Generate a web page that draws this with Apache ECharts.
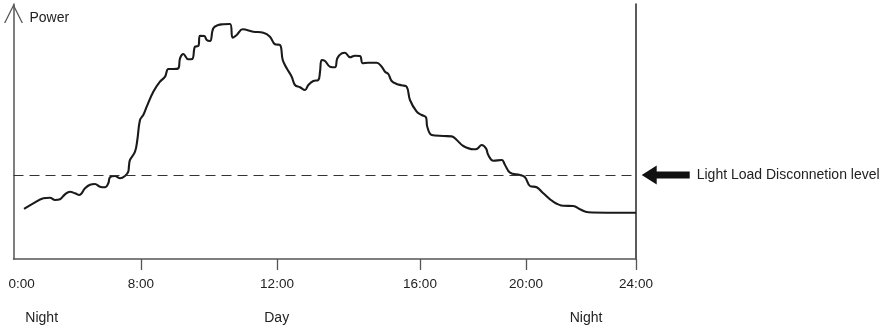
<!DOCTYPE html>
<html>
<head>
<meta charset="utf-8">
<script src="https://cdn.jsdelivr.net/npm/echarts@6/dist/echarts.min.js"></script>
<style>
  html, body { margin: 0; padding: 0; background: #fff; }
  #chart { width: 887px; height: 328px; }
</style>
</head>
<body>
<div id="chart"></div>
<script>
// Daily load profile, schematic: position along the day (0-100) vs. power (0-100).
const curvePos = [
  1.69, 3.18, 4.79, 5.86, 6.67, 7.47, 8.27, 9.08, 9.88, 10.57,
  11.49, 12.29, 13.09, 13.90, 14.70, 15.23, 15.50, 16.31, 17.11, 17.91,
  18.44, 18.55, 18.71, 19.52, 19.89, 20.32, 20.85, 21.40, 22.46, 23.53,
  24.34, 24.87, 25.67, 26.47, 26.75, 27.28, 28.08, 28.72, 29.16, 29.69,
  29.96, 30.65, 31.04, 31.57, 32.10, 32.90, 33.70, 34.78, 35.21, 35.86,
  36.82, 38.52, 40.13, 41.20, 42.01, 42.81, 43.25, 43.89, 44.69, 45.22,
  46.02, 46.83, 47.36, 48.16, 48.96, 49.24, 49.51, 50.04, 50.84, 51.65,
  52.02, 52.72, 53.25, 54.06, 54.86, 55.66, 56.10, 57.00, 58.34, 59.15,
  59.68, 60.21, 60.75, 61.56, 62.36, 63.16, 63.69, 64.77, 65.57, 66.27,
  66.47, 67.18, 69.04, 70.39, 71.20, 72.26, 73.86, 74.51, 75.21, 75.90,
  76.27, 77.08, 78.43, 78.96, 79.76, 81.36, 82.17, 82.97, 84.05, 85.11,
  86.71, 88.32, 89.93, 91.00, 92.34, 95.29, 100
];
const curvePower = [
  19.61, 21.84, 23.80, 24.04, 23.14, 23.41, 25.37, 26.39, 25.76, 25.10,
  27.73, 29.14, 29.41, 28.35, 28.12, 29.69, 32.04, 32.55, 31.65, 32.55,
  34.24, 36.47, 38.82, 42.08, 46.67, 54.51, 56.47, 59.73, 65.61, 69.53,
  71.49, 74.51, 74.51, 74.78, 78.71, 80.39, 78.31, 78.43, 83.25, 83.53,
  87.57, 87.45, 85.88, 85.49, 90.47, 91.76, 92.04, 92.16, 86.78, 87.84,
  90.08, 89.14, 88.75, 87.18, 84.20, 83.92, 78.04, 74.78, 71.49, 68.24,
  67.33, 66.27, 68.24, 69.80, 70.20, 73.45, 78.04, 77.65, 75.41, 75.18,
  78.71, 80.67, 80.90, 79.10, 79.73, 79.61, 76.75, 76.98, 76.98, 75.41,
  73.45, 72.55, 69.80, 68.63, 68.12, 67.57, 62.35, 57.76, 56.47, 55.57,
  51.88, 48.63, 48.24, 48.08, 46.67, 44.31, 43.02, 43.25, 44.71, 43.41,
  40.78, 38.55, 38.82, 36.86, 33.84, 32.94, 32.04, 28.63, 28.12, 25.76,
  22.47, 20.90, 20.78, 19.49, 18.31, 18.16, 18.16
];

// Light load disconnection threshold
const disconnectLevel = 32.94;
const disconnectText = 'Light Load Disconnetion level';

// Hour labels along the time axis and where they sit
const hourLabels = ['0:00', '8:00', '12:00', '16:00', '20:00', '24:00'];
const hourLabelPos = [1.3, 20.48, 42.33, 65.30, 82.33, 100];
const hourTickPos = [20.48, 42.33, 65.30, 82.33, 100];

// Period names under the hours
const periodLabels = ['Night', 'Day', 'Night'];
const periodPos = [4.53, 42.28, 91.97];

const FONT = '"Liberation Sans", Arial, Helvetica, sans-serif';
const chart = echarts.init(document.getElementById('chart'), null, { renderer: 'canvas' });

function lookup(values, labels) {
  return function (v) {
    let best = 0, d = Infinity;
    values.forEach((p, i) => { const e = Math.abs(p - v); if (e < d) { d = e; best = i; } });
    return labels[best];
  };
}

const openArrow = 'path://M0,19 L9.5,0 L19,19 L17.6,19 L9.5,2.8 L1.4,19 Z';
const solidArrowLeft = 'path://M0,9.5 L15,0 L15,6 L48,6 L48,13 L15,13 L15,19 Z';

chart.setOption({
  animation: false,
  backgroundColor: '#ffffff',
  textStyle: { fontFamily: FONT },
  grid: { left: 13.5, right: 251, top: 4, bottom: 69, containLabel: false },
  xAxis: [
    {
      type: 'value', min: 0, max: 100,
      axisLine: { show: true, lineStyle: { color: '#555', width: 1.5 } },
      axisTick: { show: true, customValues: hourTickPos, length: 11, lineStyle: { color: '#555', width: 1.3 } },
      axisLabel: {
        show: true, customValues: hourLabelPos, margin: 18,
        color: '#222', fontSize: 13.5, fontFamily: FONT,
        formatter: lookup(hourLabelPos, hourLabels)
      },
      splitLine: { show: false }
    },
    {
      type: 'value', min: 0, max: 100, position: 'bottom',
      axisLine: { show: false }, axisTick: { show: false }, splitLine: { show: false },
      axisLabel: {
        show: true, customValues: periodPos, margin: 52,
        color: '#222', fontSize: 14, fontFamily: FONT,
        formatter: lookup(periodPos, periodLabels)
      }
    }
  ],
  yAxis: [
    {
      type: 'value', min: 0, max: 100,
      name: 'Power', nameLocation: 'end', nameGap: -14,
      nameTextStyle: { color: '#222', fontSize: 14, fontFamily: FONT, align: 'left', verticalAlign: 'middle', padding: [0, 0, 0, 16] },
      axisLine: {
        show: true, lineStyle: { color: '#555', width: 1.5 },
        symbol: ['none', openArrow], symbolSize: [19, 19], symbolOffset: [0, -9.5]
      },
      axisTick: { show: false }, axisLabel: { show: false }, splitLine: { show: false }
    },
    {
      type: 'value', min: 0, max: 100, position: 'right',
      axisLine: { show: true, onZero: false, lineStyle: { color: '#333', width: 1.6 } },
      axisTick: { show: false }, axisLabel: { show: false }, splitLine: { show: false }
    }
  ],
  series: [
    {
      type: 'line',
      data: curvePos.map((x, i) => [x, curvePower[i]]),
      showSymbol: false,
      smooth: 0.4,
      lineStyle: { color: '#1a1a1a', width: 2.1 },
      silent: true,
      markLine: {
        silent: true, symbol: ['none', 'none'],
        label: { show: false },
        lineStyle: { color: '#333', width: 1.2, type: [10, 6] },
        data: [{ yAxis: disconnectLevel }]
      },
      markPoint: {
        silent: true,
        symbol: solidArrowLeft, symbolSize: [48, 19], symbolOffset: [29.7, 0],
        itemStyle: { color: '#111' },
        label: {
          show: true, position: 'right', distance: 7,
          color: '#222', fontSize: 14, fontFamily: FONT,
          formatter: disconnectText
        },
        data: [{ coord: [100, disconnectLevel] }]
      }
    }
  ]
});
</script>
</body>
</html>
